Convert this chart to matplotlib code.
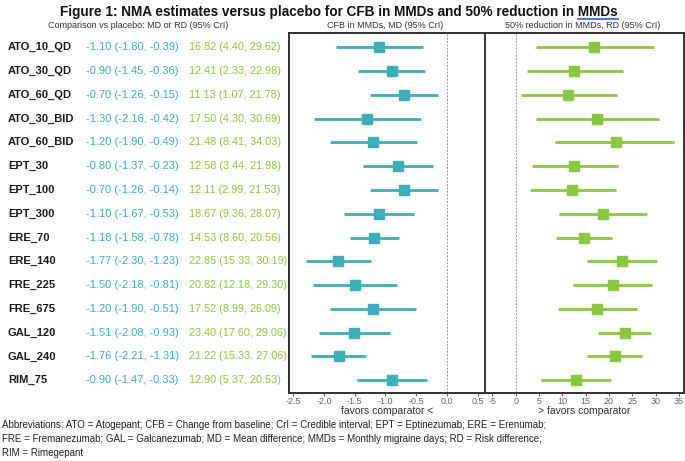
import numpy as np
import matplotlib.pyplot as plt
from matplotlib.transforms import blended_transform_factory

plt.rcParams['font.family'] = ['Liberation Sans', 'DejaVu Sans']
plt.rcParams['axes.unicode_minus'] = False

# data
treatments = ['ATO_10_QD', 'ATO_30_QD', 'ATO_60_QD', 'ATO_30_BID', 'ATO_60_BID',
              'EPT_30', 'EPT_100', 'EPT_300', 'ERE_70', 'ERE_140',
              'FRE_225', 'FRE_675', 'GAL_120', 'GAL_240', 'RIM_75']
md = [-1.10, -0.90, -0.70, -1.30, -1.20, -0.80, -0.70, -1.10, -1.18, -1.77,
      -1.50, -1.20, -1.51, -1.76, -0.90]
md_lo = [-1.80, -1.45, -1.26, -2.16, -1.90, -1.37, -1.26, -1.67, -1.58, -2.30,
         -2.18, -1.90, -2.08, -2.21, -1.47]
md_hi = [-0.39, -0.36, -0.15, -0.42, -0.49, -0.23, -0.14, -0.53, -0.78, -1.23,
         -0.81, -0.51, -0.93, -1.31, -0.33]
rd = [16.82, 12.41, 11.13, 17.50, 21.48, 12.58, 12.11, 18.67, 14.53, 22.85,
      20.82, 17.52, 23.40, 21.22, 12.90]
rd_lo = [4.40, 2.33, 1.07, 4.30, 8.41, 3.44, 2.99, 9.36, 8.60, 15.33,
         12.18, 8.99, 17.60, 15.33, 5.37]
rd_hi = [29.62, 22.98, 21.78, 30.69, 34.03, 21.98, 21.53, 28.07, 20.56, 30.19,
         29.30, 26.09, 29.06, 27.06, 20.53]

teal = '#3DAFB9'
green = '#8CC83F'

fig = plt.figure(figsize=(6.85, 4.61), dpi=100)
ax1 = fig.add_axes([0.422, 0.147, 0.286, 0.781])
ax2 = fig.add_axes([0.708, 0.147, 0.290, 0.781])

y = np.arange(len(treatments))

def forest(ax, est, lo, hi, color):
    for i in range(len(est)):
        ax.plot([lo[i], hi[i]], [y[i], y[i]], color=color, lw=2, solid_capstyle='butt')
    ax.plot(est, y, 's', color=color, ms=7)
    ax.axvline(0, color='#999999', lw=0.7, ls=(0, (2, 1.5)))
    ax.set_ylim(14.545, -0.587)
    ax.set_yticks([])
    for s in ax.spines.values():
        s.set_linewidth(1.4)
        s.set_color('#333333')
    ax.tick_params(axis='x', labelsize=6.5, colors='#666666', length=2, pad=1)

forest(ax1, md, md_lo, md_hi, teal)
ax1.set_xlim(-2.57, 0.62)
ax1.set_xticks(np.arange(-2.5, 0.51, 0.5))
ax1.set_xticklabels(['%.1f' % v for v in np.arange(-2.5, 0.51, 0.5)])

forest(ax2, rd, rd_lo, rd_hi, green)
ax2.set_xlim(-6.6, 36.0)
ax2.set_xticks(np.arange(-5, 36, 5))

ax1.set_xlabel('favors comparator <', fontsize=7.5, color='#333333', labelpad=0)
ax2.set_xlabel('> favors comparator', fontsize=7.5, color='#333333', labelpad=0)

# left table of values
tr = blended_transform_factory(fig.transFigure, ax1.transData)
for i, name in enumerate(treatments):
    fig.text(8 / 685, y[i], name, transform=tr, fontsize=8, fontweight='bold',
             va='center', ha='left', color='#1a1a1a')
    fig.text(86 / 685, y[i], '%.2f (%.2f, %.2f)' % (md[i], md_lo[i], md_hi[i]),
             transform=tr, fontsize=8, va='center', ha='left', color=teal)
    fig.text(189 / 685, y[i], '%.2f (%.2f, %.2f)' % (rd[i], rd_lo[i], rd_hi[i]),
             transform=tr, fontsize=7.8, va='center', ha='left', color=green)

# headers
title = fig.text(0.495, 1 - 12 / 461,
                 'Figure 1: NMA estimates versus placebo for CFB in MMDs and 50% reduction in MMDs',
                 ha='center', va='center', fontsize=9.8, fontweight='bold', color='#111111')
fig.text(138 / 685, 1 - 26 / 461, 'Comparison vs placebo: MD or RD (95% CrI)',
         ha='center', va='center', fontsize=6.5, color='#333333')
fig.text(385 / 685, 1 - 26 / 461, 'CFB in MMDs, MD (95% CrI)',
         ha='center', va='center', fontsize=6.5, color='#333333')
fig.text(583 / 685, 1 - 26 / 461, '50% reduction in MMDs, RD (95% CrI)',
         ha='center', va='center', fontsize=6.5, color='#333333')

# blue underline under the last word of the title
r = fig.canvas.get_renderer()
tb = title.get_window_extent(r)
tmp = fig.text(0, 0, 'MMDs', fontsize=9.8, fontweight='bold')
wb = tmp.get_window_extent(r)
tmp.remove()
x1 = tb.x1 / fig.bbox.width
x0 = (tb.x1 - wb.width) / fig.bbox.width
fig.add_artist(plt.Line2D([x0, x1], [1 - 19.5 / 461] * 2, color='#2F5FD0', lw=1.2))

# footnote
foot = ['Abbreviations: ATO = Atogepant; CFB = Change from baseline; CrI = Credible interval; EPT = Eptinezumab; ERE = Erenumab;',
        'FRE = Fremanezumab; GAL = Galcanezumab; MD = Mean difference; MMDs = Monthly migraine days; RD = Risk difference;',
        'RIM = Rimegepant']
for k, line in enumerate(foot):
    fig.text(2 / 685, 1 - (425 + 14 * k) / 461, line, ha='left', va='center',
             fontsize=7, color='#222222')

fig.savefig('out.png', dpi=100)
